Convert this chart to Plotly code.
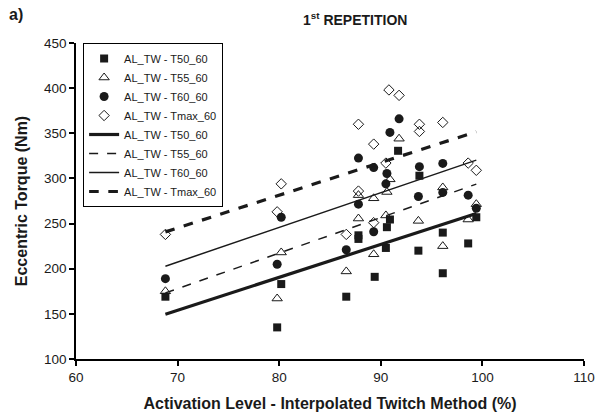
import plotly.graph_objects as go

# ---- data ----
t50_x = [68.8, 79.8, 80.2, 86.6, 87.8, 87.8, 89.4, 90.5, 90.6, 90.9, 91.7, 93.7, 93.8, 96.1, 96.1, 98.6, 99.4]
t50_y = [169, 135, 183, 169, 237, 233, 191, 223, 246, 254.5, 330.6, 220, 303, 240, 195, 228, 257]

t55_x = [68.8, 79.8, 80.2, 86.6, 87.8, 87.8, 89.3, 89.3, 90.5, 90.6, 90.9, 91.8, 93.7, 96.1, 96.1, 98.6, 99.4]
t55_y = [175, 167, 218, 197, 281.5, 255.6, 278, 216, 259, 285, 299, 344, 253, 290, 225, 254.5, 271.5]

t60_x = [68.8, 79.8, 80.2, 86.6, 87.8, 87.8, 89.3, 89.3, 90.5, 90.6, 90.9, 91.8, 93.7, 93.8, 96.1, 96.1, 98.6, 99.4]
t60_y = [189, 205, 257, 221, 322.5, 271.5, 312, 241, 294, 305.5, 351, 366, 280, 313, 316.6, 284.5, 281.5, 267]

tmax_x = [68.8, 79.8, 80.2, 86.6, 87.8, 87.8, 89.3, 89.3, 90.5, 90.8, 91.8, 93.8, 93.8, 96.1, 98.6, 99.4]
tmax_y = [238, 263, 294, 238, 360, 286, 338, 251, 317, 398, 392, 360, 352, 362, 317, 309]

trend_x = [68.8, 99.4]
trend_t50 = [149.6, 261.2]
trend_t55 = [173.2, 293.7]
trend_t60 = [202.8, 320.3]
trend_tmax = [240.8, 351.7]

names = ["AL_TW - T50_60", "AL_TW - T55_60", "AL_TW - T60_60", "AL_TW - Tmax_60"]
x_ticks = [60, 70, 80, 90, 100, 110]
y_ticks = [100, 150, 200, 250, 300, 350, 400, 450]

FONT = "Liberation Sans, Arial, sans-serif"

fig = go.Figure()

marker_specs = [
    (t50_x, t50_y, dict(symbol="square", size=8, color="#1a1a1a", line=dict(width=0))),
    (t55_x, t55_y, dict(symbol="triangle-up-open", size=9, color="#1a1a1a", line=dict(width=1))),
    (t60_x, t60_y, dict(symbol="circle", size=9, color="#1a1a1a", line=dict(width=0))),
    (tmax_x, tmax_y, dict(symbol="diamond-open", size=8, color="#1a1a1a", line=dict(width=1))),
]
for (xs, ys, mk), nm in zip(marker_specs, names):
    fig.add_trace(go.Scatter(x=xs, y=ys, mode="markers", name=nm, marker=mk))

line_specs = [
    (trend_t50, dict(color="#1a1a1a", width=3.2, dash="solid")),
    (trend_t55, dict(color="#1a1a1a", width=1.5, dash="dash")),
    (trend_t60, dict(color="#1a1a1a", width=1.5, dash="solid")),
    (trend_tmax, dict(color="#1a1a1a", width=3.2, dash="dash")),
]
for (ys, ln), nm in zip(line_specs, names):
    fig.add_trace(go.Scatter(x=trend_x, y=ys, mode="lines", name=nm, line=ln))

axis_common = dict(
    showgrid=False, zeroline=False, showline=True, linecolor="black", linewidth=1.5,
    ticks="outside", ticklen=5, tickwidth=1.5, tickcolor="black",
    tickfont=dict(family=FONT, size=13.5, color="#1a1a1a"),
    automargin=False,
)

fig.update_layout(
    width=595, height=419,
    margin=dict(l=76, r=11, t=43, b=60),
    paper_bgcolor="white", plot_bgcolor="white",
    font=dict(family=FONT, color="#1a1a1a"),
    xaxis=dict(range=[60, 110], tickvals=x_ticks,
               title=dict(text="<b>Activation Level - Interpolated Twitch Method (%)</b>",
                          font=dict(family=FONT, size=16), standoff=14),
               **axis_common),
    yaxis=dict(range=[100, 450], tickvals=y_ticks,
               title=dict(text="<b>Eccentric Torque (Nm)</b>",
                          font=dict(family=FONT, size=16), standoff=12),
               **axis_common),
    legend=dict(x=0.014, y=1.0, xanchor="left", yanchor="top",
                bgcolor="white", bordercolor="black", borderwidth=1,
                font=dict(family=FONT, size=11, color="#1a1a1a"),
                tracegroupgap=0, itemwidth=30),
    showlegend=True,
    annotations=[
        dict(text="<b>1<sup>st</sup> REPETITION</b>", xref="paper", yref="paper",
             x=0.549, y=1.075, xanchor="center", yanchor="middle", showarrow=False,
             font=dict(family=FONT, size=14, color="#1a1a1a")),
        dict(text="<b>a)</b>", xref="paper", yref="paper",
             x=-0.135, y=1.09, xanchor="left", yanchor="middle", showarrow=False,
             font=dict(family=FONT, size=16, color="#1a1a1a")),
    ],
)

fig.write_html("out.html")
